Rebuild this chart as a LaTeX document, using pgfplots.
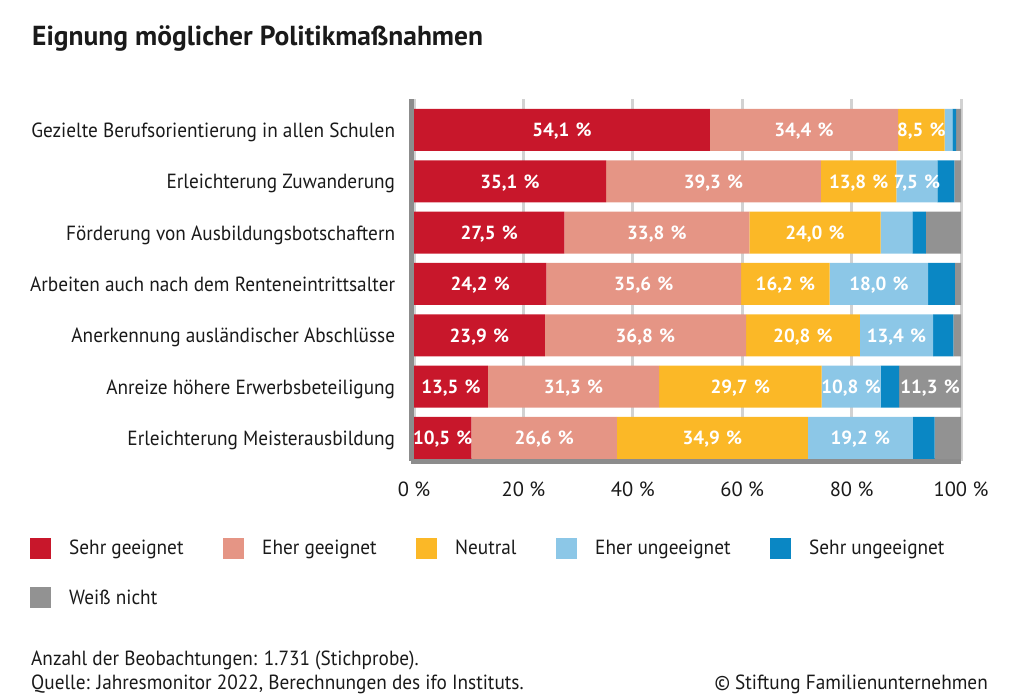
\documentclass[border=0pt]{standalone}
\usepackage{fontspec}
\setmainfont{PT Sans}[FakeStretch=0.94]
\newfontfamily\plainfam{PT Sans}
\usepackage{pgfplots}
\usepackage{pgfplotstable}
\pgfplotsset{compat=1.18}
\definecolor{cSG}{HTML}{C8172B}
\definecolor{cEG}{HTML}{E59585}
\definecolor{cN}{HTML}{FBB827}
\definecolor{cEU}{HTML}{8CC7E7}
\definecolor{cSU}{HTML}{0A87C4}
\definecolor{cWN}{HTML}{929292}
\definecolor{axgray}{HTML}{8C8C8C}
\definecolor{gridgray}{HTML}{D2D2D2}
\definecolor{txt}{HTML}{1A1A1A}
\pgfplotstableread{
y a b c d e f
7 54.1 34.4 8.5 1.4 0.7 0.9
6 35.1 39.3 13.8 7.5 3.1 1.2
5 27.5 33.8 24.0 5.8 2.5 6.4
4 24.2 35.6 16.2 18.0 4.9 1.1
3 23.9 36.8 20.8 13.4 3.7 1.4
2 13.5 31.3 29.7 10.8 3.4 11.3
1 10.5 26.6 34.9 19.2 4.0 4.8
}\data
\newcommand{\lblfont}{\fontsize{20.5}{24}\selectfont}
\pgfplotsset{
  common/.style={
    at={(411.3pt,239pt)}, anchor=south west,
    scale only axis, width=549.7pt, height=362pt,
    xmin=-0.5, xmax=100, ymin=0.552, ymax=7.604,
  },
  lbl/.style={draw=none, mark=none, point meta=explicit,
    nodes near coords={\pgfmathprintnumber[fixed,fixed zerofill,precision=1,use comma,assume math mode=true]{\pgfplotspointmeta}\hspace{1.5pt}\ \%},
    nodes near coords align={anchor=base},
    every node near coord/.append style={anchor=base, yshift=-6.7pt, text=white, inner sep=0pt,
      font=\plainfam\bfseries\fontsize{19}{21}\selectfont},
  },
}
\begin{document}
\begin{tikzpicture}
\path[use as bounding box] (0,0) rectangle (1010pt,700pt);
\begin{axis}[common,
  xbar stacked, bar width=42pt,
  axis x line*=bottom, axis y line*=left,
  axis line style={axgray, line width=5.5pt},
  xtick={0,20,40,60,80,100},
  xticklabels={0 \%,20 \%,40 \%,60 \%,80 \%,100 \%},
  major tick length=0pt,
  xmajorgrids, grid style={gridgray, line width=3pt},
  xticklabel style={anchor=base, yshift=-36pt, inner sep=0pt, font=\plainfam\lblfont, text=txt},
  ytick={1,2,3,4,5,6,7},
  yticklabels={Erleichterung Meisterausbildung, Anreize höhere Erwerbsbeteiligung, Anerkennung ausländischer Abschlüsse, Arbeiten auch nach dem Renteneintrittsalter, Förderung von Ausbildungsbotschaftern, Erleichterung Zuwanderung, Gezielte Berufsorientierung in allen Schulen},
  yticklabel style={anchor=base east, xshift=-16pt, yshift=-7.5pt, inner sep=0pt, font=\lblfont, text=txt},
]
\addplot[fill=cSG, draw=none] table[x=a, y=y]{\data};
\addplot[fill=cEG, draw=none] table[x=b, y=y]{\data};
\addplot[fill=cN, draw=none] table[x=c, y=y]{\data};
\addplot[fill=cEU, draw=none] table[x=d, y=y]{\data};
\addplot[fill=cSU, draw=none] table[x=e, y=y]{\data};
\addplot[fill=cWN, draw=none] table[x=f, y=y]{\data};
\end{axis}
\begin{axis}[common, hide axis, clip=false]
\addplot[lbl, restrict expr to domain={\thisrow{a}}{7:1000}] table[x expr=\thisrow{a}/2, y=y, meta=a]{\data};
\addplot[lbl, restrict expr to domain={\thisrow{b}}{7:1000}] table[x expr=\thisrow{a}+\thisrow{b}/2, y=y, meta=b]{\data};
\addplot[lbl, restrict expr to domain={\thisrow{c}}{7:1000}] table[x expr=\thisrow{a}+\thisrow{b}+\thisrow{c}/2, y=y, meta=c]{\data};
\addplot[lbl, restrict expr to domain={\thisrow{d}}{7:1000}] table[x expr=\thisrow{a}+\thisrow{b}+\thisrow{c}+\thisrow{d}/2, y=y, meta=d]{\data};
\addplot[lbl, restrict expr to domain={\thisrow{e}}{7:1000}] table[x expr=\thisrow{a}+\thisrow{b}+\thisrow{c}+\thisrow{d}+\thisrow{e}/2, y=y, meta=e]{\data};
\addplot[lbl, restrict expr to domain={\thisrow{f}}{7:1000}] table[x expr=100-\thisrow{f}/2, y=y, meta=f]{\data};
\end{axis}
% title
\node[anchor=base west, inner sep=0pt, text=txt, font=\plainfam\bfseries\fontsize{27.5}{30}\selectfont] at (32pt,654pt) {Eignung möglicher Politikmaßnahmen};
% legend
\begin{scope}[every node/.style={anchor=base west, inner sep=0pt, text=txt, font=\lblfont}]
\fill[cSG] (30pt,141pt) rectangle ++(21pt,21pt); \node at (69pt,145pt) {Sehr geeignet};
\fill[cEG] (223pt,141pt) rectangle ++(21pt,21pt); \node at (262pt,145pt) {Eher geeignet};
\fill[cN] (416pt,141pt) rectangle ++(21pt,21pt); \node at (455pt,145pt) {Neutral};
\fill[cEU] (556pt,141pt) rectangle ++(21pt,21pt); \node at (595pt,145pt) {Eher ungeeignet};
\fill[cSU] (770pt,141pt) rectangle ++(21pt,21pt); \node at (809pt,145pt) {Sehr ungeeignet};
\fill[cWN] (30pt,91.7pt) rectangle ++(21pt,21pt); \node at (69pt,95pt) {Weiß nicht};
\node at (31pt,34pt) {Anzahl der Beobachtungen: 1.731 (Stichprobe).};
\node at (31pt,10pt) {Quelle: Jahresmonitor 2022, Berechnungen des ifo Instituts.};
\node[anchor=base east] at (988pt,10pt) {© Stiftung Familienunternehmen};
\end{scope}
\end{tikzpicture}
\end{document}
